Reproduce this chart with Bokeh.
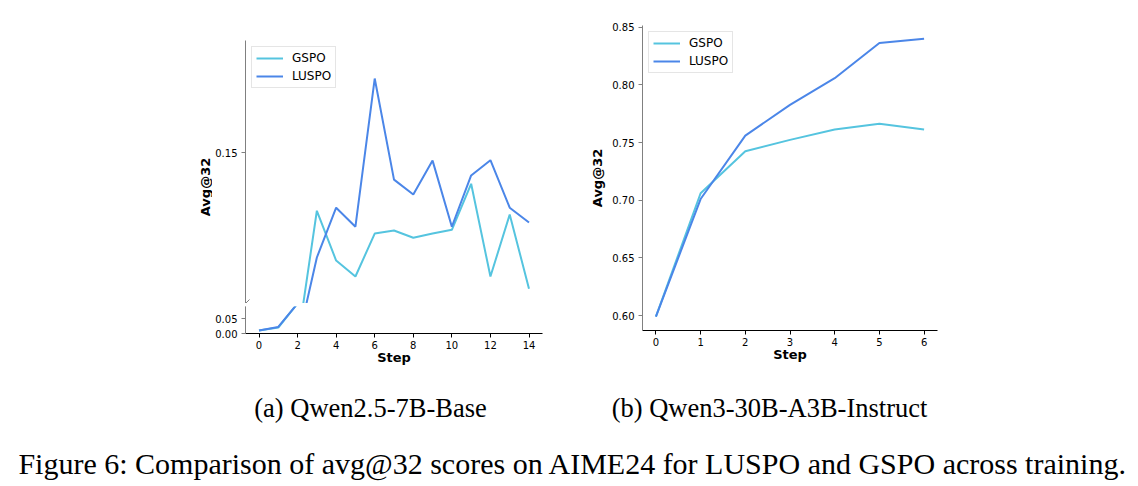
import math
from bokeh.plotting import figure
from bokeh.layouts import column, row
from bokeh.models import Range1d, FixedTicker, PrintfTickFormatter, Label, Arrow
from bokeh.embed import file_html
from bokeh.resources import INLINE

# ---------------- data ----------------
steps_a = list(range(15))
gspo_a = [0.010, 0.020, 0.100, 0.1347, 0.1216, 0.1174, 0.1287, 0.1295, 0.1276,
          0.1287, 0.1297, 0.1418, 0.1174, 0.1337, 0.1142]
luspo_a = [0.010, 0.022, 0.100, 0.1224, 0.1355, 0.1305, 0.1695, 0.1429, 0.1390,
           0.1479, 0.1305, 0.1440, 0.1480, 0.1355, 0.1316]
xticks_a = [0, 2, 4, 6, 8, 10, 12, 14]
yticks_a_top = [0.15]
yticks_a_bottom = [0.00, 0.05]

steps_b = list(range(7))
gspo_b = [0.599, 0.706, 0.7425, 0.7523, 0.7613, 0.7662, 0.7613]
luspo_b = [0.599, 0.701, 0.756, 0.7827, 0.8058, 0.8364, 0.840]
xticks_b = [0, 1, 2, 3, 4, 5, 6]
yticks_b = [0.60, 0.65, 0.70, 0.75, 0.80, 0.85]

caption_a = "(a) Qwen2.5-7B-Base"
caption_b = "(b) Qwen3-30B-A3B-Instruct"
caption_fig = "Figure 6: Comparison of avg@32 scores on AIME24 for LUSPO and GSPO across training."

C_GSPO = "#55c4df"
C_LUSPO = "#4b86e8"
SPINE_L = "#808080"
FONT = "DejaVu Sans"
TICK_FS = "10px"
LAB_FS = "13px"

X_A = (-0.7, 14.7)
Y_A_TOP = (0.1103, 0.1795)
Y_A_BOT = (0.0, 0.09)


def style_yaxis(ax):
    ax.axis_line_color = SPINE_L
    ax.major_tick_line_color = SPINE_L
    ax.major_tick_out = 4
    ax.major_tick_in = 0
    ax.minor_tick_line_color = None
    ax.major_label_text_font = FONT
    ax.major_label_text_font_size = TICK_FS
    ax.major_label_text_color = "black"
    ax.major_label_standoff = 4
    ax.axis_label_text_color = "black"


def style_xaxis(ax):
    ax.axis_line_color = "black"
    ax.major_tick_line_color = "black"
    ax.major_tick_out = 4
    ax.major_tick_in = 0
    ax.minor_tick_line_color = None
    ax.major_label_text_font = FONT
    ax.major_label_text_font_size = TICK_FS
    ax.major_label_text_color = "black"
    ax.major_label_standoff = 3
    ax.axis_label_text_font = FONT
    ax.axis_label_text_font_size = LAB_FS
    ax.axis_label_text_font_style = "bold"
    ax.axis_label_text_color = "black"
    ax.axis_label_standoff = -2


def style_legend(p):
    lg = p.legend[0]
    lg.location = "top_left"
    lg.margin = 6
    lg.padding = 4
    lg.spacing = 4
    lg.glyph_width = 27
    lg.glyph_height = 14
    lg.label_height = 14
    lg.label_standoff = 9
    lg.label_text_font = FONT
    lg.label_text_font_size = "12px"
    lg.label_text_color = "black"
    lg.border_line_color = "#cccccc"
    lg.background_fill_alpha = 0.85


def base_fig(**kw):
    p = figure(output_backend="svg", toolbar_location=None, **kw)
    p.outline_line_color = None
    p.xgrid.visible = False
    p.ygrid.visible = False
    p.background_fill_color = "white"
    p.border_fill_color = "white"
    return p


# ---------------- chart (a): broken axis ----------------
LAB_W = 212          # strip that carries the shared y label
LEFT_W = 580 - LAB_W
BL = 245 - LAB_W     # left border of the two halves

up = base_fig(width=LEFT_W, height=303, x_range=Range1d(*X_A), y_range=Range1d(*Y_A_TOP),
              x_axis_type=None, min_border_left=BL, min_border_right=LEFT_W - BL - 297,
              min_border_top=40, min_border_bottom=0)
up.line(steps_a, gspo_a, line_color=C_GSPO, line_width=2, legend_label="GSPO")
up.line(steps_a, luspo_a, line_color=C_LUSPO, line_width=2, legend_label="LUSPO")
up.yaxis.ticker = FixedTicker(ticks=yticks_a_top)
up.yaxis.formatter = PrintfTickFormatter(format="%.2f")
style_yaxis(up.yaxis[0])
style_legend(up)

low = base_fig(width=LEFT_W, height=72, x_range=up.x_range, y_range=Range1d(*Y_A_BOT),
               min_border_left=BL, min_border_right=LEFT_W - BL - 297,
               min_border_top=3, min_border_bottom=42)
low.line(steps_a, gspo_a, line_color=C_GSPO, line_width=2)
low.line(steps_a, luspo_a, line_color=C_LUSPO, line_width=2)
low.yaxis.ticker = FixedTicker(ticks=yticks_a_bottom)
low.yaxis.formatter = PrintfTickFormatter(format="%.2f")
style_yaxis(low.yaxis[0])
low.xaxis.ticker = FixedTicker(ticks=xticks_a)
low.xaxis.axis_label = "Step"
style_xaxis(low.xaxis[0])

# break marks on the left spine
dx = 4 / 19.14
up.add_layout(Arrow(end=None, x_start=X_A[0] - dx, y_start=Y_A_TOP[0] - 4 / 3800,
                    x_end=X_A[0] + dx, y_end=Y_A_TOP[0] + 4 / 3800,
                    line_color=SPINE_L, line_width=1))
low.add_layout(Arrow(end=None, x_start=X_A[0] - dx, y_start=Y_A_BOT[1] - 4 / 300,
                     x_end=X_A[0] + dx, y_end=Y_A_BOT[1] + 4 / 300,
                     line_color=SPINE_L, line_width=1))

# shared y-axis label strip (centred on both halves)
labfig = base_fig(width=LAB_W, height=375, x_range=Range1d(0, LAB_W), y_range=Range1d(0, 375),
                  x_axis_type=None, y_axis_type=None,
                  min_border_left=0, min_border_right=0, min_border_top=0, min_border_bottom=0)
labfig.add_layout(Label(x=205.3, y=375 - 186.5, text="Avg@32", angle=math.pi / 2,
                        text_align="center", text_baseline="middle", text_font=FONT,
                        text_font_size=LAB_FS, text_font_style="bold", text_color="black"))

left = row(labfig, column(up, low, spacing=0), spacing=0)

# ---------------- chart (b) ----------------
RIGHT_W = 1138 - 580
rb = base_fig(width=RIGHT_W, height=375, x_range=Range1d(-0.3, 6.3), y_range=Range1d(0.587, 0.8515),
              min_border_left=62, min_border_right=RIGHT_W - 62 - 295,
              min_border_top=25, min_border_bottom=45)
rb.line(steps_b, gspo_b, line_color=C_GSPO, line_width=2, legend_label="GSPO")
rb.line(steps_b, luspo_b, line_color=C_LUSPO, line_width=2, legend_label="LUSPO")
rb.yaxis.ticker = FixedTicker(ticks=yticks_b)
rb.yaxis.formatter = PrintfTickFormatter(format="%.2f")
style_yaxis(rb.yaxis[0])
rb.yaxis.axis_label = "Avg@32"
rb.yaxis.axis_label_text_font = FONT
rb.yaxis.axis_label_text_font_size = LAB_FS
rb.yaxis.axis_label_text_font_style = "bold"
rb.yaxis.axis_label_standoff = 4
rb.xaxis.ticker = FixedTicker(ticks=xticks_b)
rb.xaxis.axis_label = "Step"
style_xaxis(rb.xaxis[0])
style_legend(rb)

# ---------------- captions ----------------
cap = base_fig(width=1138, height=111, x_range=Range1d(0, 1138), y_range=Range1d(0, 111),
               x_axis_type=None, y_axis_type=None,
               min_border_left=0, min_border_right=0, min_border_top=0, min_border_bottom=0)
SERIF = "Liberation Serif"
cap.add_layout(Label(x=370, y=111 - 32, text=caption_a, text_align="center",
                     text_baseline="alphabetic", text_font=SERIF, text_font_size="26.5px",
                     text_color="black"))
cap.add_layout(Label(x=769, y=111 - 32, text=caption_b, text_align="center",
                     text_baseline="alphabetic", text_font=SERIF, text_font_size="26.5px",
                     text_color="black"))
cap.add_layout(Label(x=572.5, y=111 - 88, text=caption_fig, text_align="center",
                     text_baseline="alphabetic", text_font=SERIF, text_font_size="30px",
                     text_color="black"))

layout = column(row(left, rb, spacing=0), cap, spacing=0)

open("out.html", "w").write(file_html(layout, INLINE))
